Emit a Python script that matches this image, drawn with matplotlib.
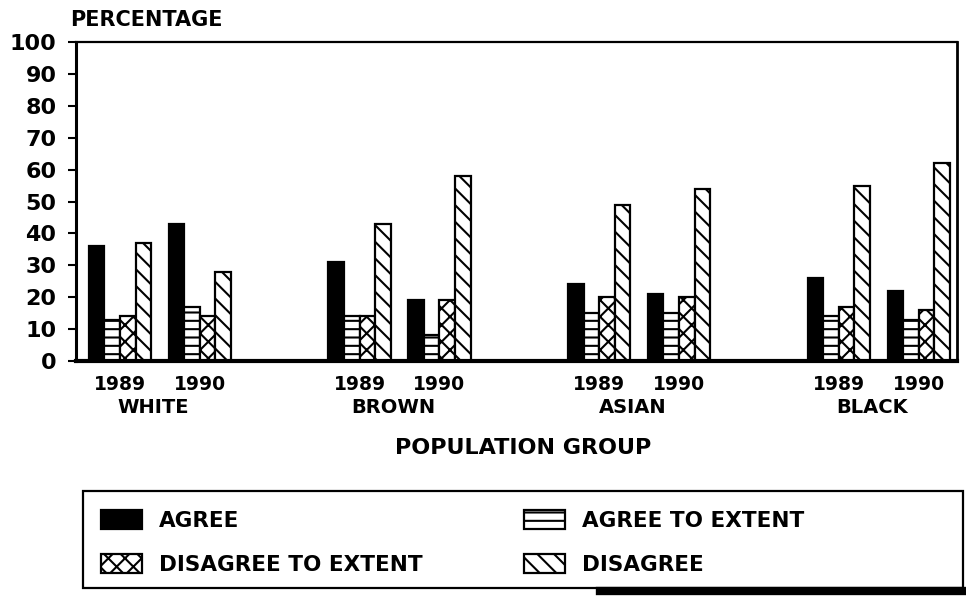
import matplotlib.pyplot as plt
from matplotlib.patches import Rectangle
from matplotlib.lines import Line2D

# Survey answers by population group and year (percent)
groups = ["WHITE", "BROWN", "ASIAN", "BLACK"]
years = ["1989", "1990"]
series_names = ["AGREE", "AGREE TO EXTENT", "DISAGREE TO EXTENT", "DISAGREE"]

# order: WHITE 89, WHITE 90, BROWN 89, BROWN 90, ASIAN 89, ASIAN 90, BLACK 89, BLACK 90
agree = [36, 43, 31, 19, 24, 21, 26, 22]
agree_extent = [13, 17, 14, 8, 15, 15, 14, 13]
disagree_extent = [14, 14, 14, 19, 20, 20, 17, 16]
disagree = [37, 28, 43, 58, 49, 54, 55, 62]

plt.rcParams['font.family'] = ['DejaVu Sans']
plt.rcParams['font.weight'] = 'bold'
plt.rcParams['hatch.linewidth'] = 1.5
plt.rcParams['hatch.color'] = 'black'

fig = plt.figure(figsize=(9.66, 5.97), dpi=100)
ax = fig.add_axes([76 / 966, 1 - 361 / 597, (957 - 76) / 966, (361 - 42) / 597])

# one slot per year inside a group, groups 3 slots apart
centers = [3 * g + y for g in range(len(groups)) for y in range(len(years))]
width = 0.195
styles = [
    dict(color='black', edgecolor='black'),
    dict(color='white', edgecolor='black', hatch='--'),
    dict(color='white', edgecolor='black', hatch='xx'),
    dict(color='white', edgecolor='black', hatch='\\\\'),
]
handles = []
for k, (vals, st) in enumerate(zip([agree, agree_extent, disagree_extent, disagree], styles)):
    pos = [c + (k - 1.5) * width for c in centers]
    b = ax.bar(pos, vals, width, linewidth=1.6, label=series_names[k], **st)
    handles.append(b)

ax.set_xlim(-0.55, 10.48)
ax.set_ylim(0, 100)
ax.set_yticks(range(0, 101, 10))
ax.tick_params(axis='y', length=6, width=1.5, pad=8, labelsize=16)
ax.set_xticks(centers)
ax.set_xticklabels(years * len(groups), fontsize=13.5, fontweight='bold')
ax.tick_params(axis='x', length=0, pad=10)
for lab in ax.get_yticklabels():
    lab.set_fontweight('bold')

ax.spines['left'].set_linewidth(2.2)
ax.spines['bottom'].set_linewidth(3)
ax.spines['top'].set_linewidth(1.6)
ax.spines['right'].set_linewidth(2)

for g, name in enumerate(groups):
    ax.text(3 * g + 0.42, -0.146, name, transform=ax.get_xaxis_transform(),
            ha='center', va='center', fontsize=14, fontweight='bold')

ax.text(0.507, -0.273, "POPULATION GROUP", transform=ax.transAxes,
        ha='center', va='center', fontsize=16, fontweight='bold')
fig.text(70 / 966, 1 - 20 / 597, "PERCENTAGE", ha='left', va='center',
         fontsize=15, fontweight='bold')

# legend: column 1 agree / disagree to extent, column 2 agree to extent / disagree
order = [0, 2, 1, 3]
fig.legend([handles[i] for i in order], [series_names[i] for i in order],
           ncol=2, loc='upper left', bbox_to_anchor=(101 / 966, 1 - 510 / 597),
           frameon=False, borderpad=0, borderaxespad=0,
           handlelength=1.9, handleheight=1.0, handletextpad=0.8,
           labelspacing=1.05, columnspacing=4.7,
           prop={'size': 15.5, 'weight': 'bold'})
fig.patches.append(Rectangle((83 / 966, 1 - 588 / 597), 880 / 966, 97 / 597,
                             transform=fig.transFigure, fill=False,
                             edgecolor='black', linewidth=1.6))
fig.lines.append(Line2D([600 / 966, 1.0], [1 - 591 / 597, 1 - 591 / 597],
                        transform=fig.transFigure, color='black', linewidth=6))

fig.savefig("out.png", dpi=100)
